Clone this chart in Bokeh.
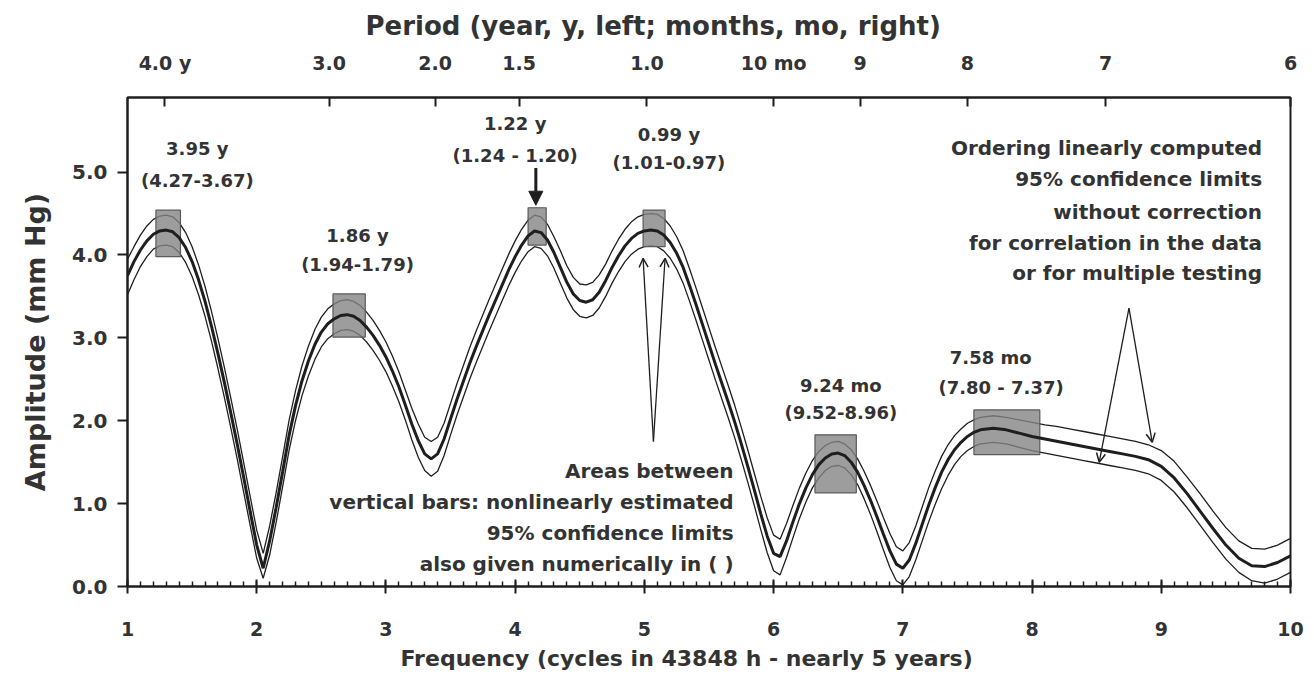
from bokeh.plotting import figure
from bokeh.models import (Range1d, LinearAxis, FixedTicker, SingleIntervalTicker,
                          Label, Arrow, NormalHead, OpenHead, Title)
from bokeh.embed import file_html
from bokeh.resources import INLINE

# ---------------- data ----------------
freq = [
    1.00, 1.05, 1.10, 1.15, 1.20, 1.25, 1.30, 1.35, 1.40, 1.45,
    1.50, 1.55, 1.60, 1.65, 1.70, 1.75, 1.80, 1.85, 1.90, 1.95,
    2.00, 2.05, 2.10, 2.15, 2.20, 2.25, 2.30, 2.35, 2.40, 2.45,
    2.50, 2.55, 2.60, 2.65, 2.70, 2.75, 2.80, 2.85, 2.90, 2.95,
    3.00, 3.05, 3.10, 3.15, 3.20, 3.25, 3.30, 3.35, 3.40, 3.45,
    3.50, 3.55, 3.60, 3.65, 3.70, 3.75, 3.80, 3.85, 3.90, 3.95,
    4.00, 4.05, 4.10, 4.15, 4.20, 4.25, 4.30, 4.35, 4.40, 4.45,
    4.50, 4.55, 4.60, 4.65, 4.70, 4.75, 4.80, 4.85, 4.90, 4.95,
    5.00, 5.05, 5.10, 5.15, 5.20, 5.25, 5.30, 5.35, 5.40, 5.45,
    5.50, 5.55, 5.60, 5.65, 5.70, 5.75, 5.80, 5.85, 5.90, 5.95,
    6.00, 6.05, 6.10, 6.15, 6.20, 6.25, 6.30, 6.35, 6.40, 6.45,
    6.50, 6.55, 6.60, 6.65, 6.70, 6.75, 6.80, 6.85, 6.90, 6.95,
    7.00, 7.05, 7.10, 7.15, 7.20, 7.25, 7.30, 7.35, 7.40, 7.45,
    7.50, 7.55, 7.60,
    7.70, 7.80, 7.90, 8.00, 8.10, 8.20, 8.30, 8.40, 8.50, 8.60,
    8.70, 8.80, 8.90, 9.00, 9.10, 9.20, 9.30, 9.40, 9.50, 9.60,
    9.70, 9.80, 9.90, 10.00,
]

amp_mid = [
    3.75, 3.92, 4.06, 4.17, 4.25, 4.29, 4.30, 4.28, 4.21, 4.09,
    3.92, 3.70, 3.44, 3.14, 2.81, 2.46, 2.09, 1.71, 1.31, 0.90,
    0.50, 0.22, 0.55, 0.95, 1.38, 1.82, 2.18, 2.48, 2.72, 2.92,
    3.07, 3.17, 3.23, 3.27, 3.28, 3.26, 3.21, 3.13, 3.03, 2.91,
    2.77, 2.60, 2.41, 2.19, 1.96, 1.76, 1.60, 1.54, 1.60, 1.78,
    2.02, 2.26, 2.48, 2.70, 2.90, 3.09, 3.28, 3.46, 3.64, 3.82,
    3.98, 4.12, 4.23, 4.29, 4.27, 4.18, 4.03, 3.85, 3.67, 3.53,
    3.45, 3.43, 3.46, 3.55, 3.69, 3.85, 3.99, 4.11, 4.20, 4.26,
    4.29, 4.30, 4.29, 4.24, 4.15, 4.02, 3.85, 3.63, 3.40, 3.16,
    2.92, 2.68, 2.45, 2.22, 1.98, 1.72, 1.45, 1.17, 0.88, 0.61,
    0.40, 0.36, 0.55, 0.78, 1.00, 1.19, 1.35, 1.47, 1.55, 1.60,
    1.61, 1.58, 1.50, 1.38, 1.22, 1.04, 0.84, 0.63, 0.43, 0.27,
    0.22, 0.32, 0.52, 0.75, 0.98, 1.19, 1.38, 1.53, 1.65, 1.74,
    1.81, 1.86, 1.89,
    1.91, 1.89, 1.85, 1.81, 1.78, 1.75, 1.72, 1.69, 1.66, 1.63,
    1.60, 1.57, 1.53, 1.45, 1.31, 1.12, 0.91, 0.70, 0.50, 0.34,
    0.25, 0.24, 0.29, 0.37,
]

amp_upper = [
    3.95, 4.10, 4.24, 4.35, 4.43, 4.47, 4.48, 4.46, 4.39, 4.27,
    4.10, 3.88, 3.62, 3.32, 2.99, 2.64, 2.27, 1.89, 1.49, 1.08,
    0.68, 0.40, 0.73, 1.13, 1.56, 2.00, 2.36, 2.66, 2.90, 3.10,
    3.25, 3.35, 3.41, 3.45, 3.46, 3.44, 3.39, 3.31, 3.21, 3.09,
    2.95, 2.78, 2.59, 2.37, 2.15, 1.96, 1.80, 1.75, 1.80, 1.97,
    2.21, 2.45, 2.67, 2.89, 3.09, 3.28, 3.47, 3.65, 3.83, 4.01,
    4.17, 4.31, 4.42, 4.48, 4.46, 4.37, 4.22, 4.05, 3.87, 3.73,
    3.65, 3.64, 3.67, 3.76, 3.89, 4.05, 4.19, 4.31, 4.40, 4.46,
    4.49, 4.50, 4.49, 4.44, 4.35, 4.22, 4.05, 3.83, 3.60, 3.36,
    3.12, 2.88, 2.65, 2.42, 2.18, 1.92, 1.65, 1.37, 1.09, 0.83,
    0.62, 0.57, 0.76, 0.98, 1.19, 1.37, 1.52, 1.63, 1.70, 1.74,
    1.75, 1.72, 1.65, 1.54, 1.39, 1.22, 1.03, 0.83, 0.64, 0.48,
    0.43, 0.53, 0.73, 0.96, 1.19, 1.39, 1.57, 1.71, 1.82, 1.90,
    1.97, 2.01, 2.04,
    2.06, 2.04, 2.01, 1.98, 1.95, 1.93, 1.90, 1.87, 1.84, 1.81,
    1.78, 1.75, 1.71, 1.64, 1.51, 1.32, 1.12, 0.91, 0.71, 0.55,
    0.46, 0.45, 0.50, 0.58,
]

amp_lower = [
    3.52, 3.70, 3.86, 3.98, 4.07, 4.11, 4.12, 4.10, 4.03, 3.91,
    3.74, 3.52, 3.26, 2.96, 2.63, 2.28, 1.91, 1.53, 1.13, 0.73,
    0.34, 0.10, 0.38, 0.77, 1.20, 1.64, 2.00, 2.30, 2.54, 2.74,
    2.89, 2.99, 3.05, 3.09, 3.10, 3.08, 3.03, 2.95, 2.85, 2.73,
    2.59, 2.42, 2.23, 2.01, 1.77, 1.56, 1.40, 1.33, 1.39, 1.58,
    1.83, 2.07, 2.29, 2.51, 2.71, 2.90, 3.09, 3.27, 3.45, 3.63,
    3.79, 3.93, 4.04, 4.10, 4.08, 3.99, 3.84, 3.66, 3.48, 3.34,
    3.26, 3.24, 3.27, 3.36, 3.50, 3.66, 3.80, 3.92, 4.01, 4.07,
    4.10, 4.11, 4.10, 4.05, 3.96, 3.83, 3.66, 3.44, 3.21, 2.97,
    2.73, 2.49, 2.26, 2.03, 1.79, 1.53, 1.26, 0.98, 0.69, 0.41,
    0.19, 0.14, 0.35, 0.59, 0.82, 1.02, 1.19, 1.31, 1.40, 1.45,
    1.46, 1.43, 1.35, 1.23, 1.06, 0.87, 0.66, 0.44, 0.23, 0.07,
    0.02, 0.12, 0.32, 0.55, 0.78, 0.99, 1.18, 1.34, 1.47, 1.57,
    1.64, 1.69, 1.72,
    1.74, 1.72, 1.68, 1.64, 1.61, 1.58, 1.55, 1.52, 1.49, 1.46,
    1.43, 1.40, 1.36, 1.28, 1.14, 0.95, 0.74, 0.53, 0.33, 0.17,
    0.07, 0.04, 0.09, 0.17,
]

# nonlinear confidence regions (grey boxes): frequency and amplitude limits
box_f_lo = [1.22, 2.59, 4.10, 4.99, 6.32, 7.55]
box_f_hi = [1.41, 2.84, 4.24, 5.16, 6.64, 8.06]
box_a_lo = [3.98, 3.01, 4.12, 4.10, 1.13, 1.59]
box_a_hi = [4.54, 3.53, 4.57, 4.54, 1.83, 2.13]

peak_period = ["3.95 y", "1.86 y", "1.22 y", "0.99 y", "9.24 mo", "7.58 mo"]
peak_ci = ["(4.27-3.67)", "(1.94-1.79)", "(1.24 - 1.20)", "(1.01-0.97)",
           "(9.52-8.96)", "(7.80 - 7.37)"]

y_tick_values = [0, 1, 2, 3, 4, 5]
y_tick_labels = ["0.0", "1.0", "2.0", "3.0", "4.0", "5.0"]
top_tick_pos = [1.29, 2.56, 3.38, 4.03, 5.02, 6.0, 6.67, 7.5, 8.57, 10.0]
top_tick_labels = ["4.0 y", "3.0", "2.0", "1.5", "1.0", "10 mo", "9", "8", "7", "6"]

note_right = ["Ordering linearly computed", "95% confidence limits",
              "without correction", "for correlation in the data",
              "or for multiple testing"]
note_mid = ["Areas between", "vertical bars: nonlinearly estimated",
            "95% confidence limits", "also given numerically in ( )"]

# ---------------- styling ----------------
FONT = "DejaVu Sans"
TXT = "#333333"
INK = "#1e1e1e"

p = figure(width=1308, height=675, output_backend="svg", toolbar_location=None,
           x_range=Range1d(1, 10), y_range=Range1d(0, 5.9),
           min_border_left=127, min_border_right=18,
           min_border_top=97, min_border_bottom=88,
           background_fill_color="white", border_fill_color="white")
p.xgrid.visible = False
p.ygrid.visible = False
p.outline_line_color = INK
p.outline_line_width = 2

# bottom axis
xa = p.xaxis[0]
xa.ticker = SingleIntervalTicker(interval=1, num_minor_ticks=10)
xa.major_tick_in = 7
xa.major_tick_out = 7
xa.minor_tick_in = 5
xa.minor_tick_out = 0
xa.major_tick_line_width = 2
xa.minor_tick_line_width = 1.5
xa.axis_line_width = 2
xa.major_label_standoff = 28
xa.major_label_text_font = FONT
xa.major_label_text_font_style = "bold"
xa.major_label_text_font_size = "19px"
xa.major_label_text_color = TXT
for k in ("axis_line_color", "major_tick_line_color", "minor_tick_line_color"):
    setattr(xa, k, INK)

# left axis
ya = p.yaxis[0]
ya.ticker = FixedTicker(ticks=y_tick_values)
ya.major_label_overrides = dict(zip(y_tick_values, y_tick_labels))
ya.major_tick_in = 0
ya.major_tick_out = 10
ya.major_tick_line_width = 2
ya.axis_line_width = 2
ya.minor_tick_line_color = None
ya.major_label_standoff = 10
ya.major_label_text_font = FONT
ya.major_label_text_font_style = "bold"
ya.major_label_text_font_size = "20px"
ya.major_label_text_color = TXT
ya.axis_line_color = INK
ya.major_tick_line_color = INK
ya.axis_label = "Amplitude (mm Hg)"
ya.axis_label_text_font = FONT
ya.axis_label_text_font_style = "bold"
ya.axis_label_text_font_size = "27px"
ya.axis_label_text_color = TXT
ya.axis_label_standoff = 18

# top axis (period)
ta = LinearAxis(ticker=FixedTicker(ticks=top_tick_pos),
                major_label_overrides=dict(zip(top_tick_pos, top_tick_labels)))
ta.major_tick_in = 9
ta.major_tick_out = 0
ta.major_tick_line_width = 2
ta.minor_tick_line_color = None
ta.axis_line_width = 2
ta.axis_line_color = INK
ta.major_tick_line_color = INK
ta.major_label_standoff = 24
ta.major_label_text_font = FONT
ta.major_label_text_font_style = "bold"
ta.major_label_text_font_size = "19px"
ta.major_label_text_color = TXT
p.add_layout(ta, "above")

# axis titles as titles so they sit outside the frame
p.add_layout(Title(text="Period (year, y, left; months, mo, right)", align="left",
                   offset=238, standoff=15, text_font=FONT, text_font_style="bold",
                   text_font_size="26px", text_color=TXT), "above")
p.add_layout(Title(text="Frequency (cycles in 43848 h - nearly 5 years)", align="left",
                   offset=273, standoff=10, text_font=FONT, text_font_style="bold",
                   text_font_size="22px", text_color=TXT), "below")

# confidence lines
p.line(freq, amp_upper, line_color=INK, line_width=1.3)
p.line(freq, amp_lower, line_color=INK, line_width=1.3)

# grey boxes
p.quad(left=box_f_lo, right=box_f_hi, bottom=box_a_lo, top=box_a_hi,
       fill_color="#858585", fill_alpha=0.8, line_color="#5a5a5a", line_width=1.2)

# main amplitude spectrum
p.line(freq, amp_mid, line_color=INK, line_width=3)


def lab(x, y, text, size="18px", align="center"):
    p.add_layout(Label(x=x, y=y, text=text, text_font=FONT, text_font_style="bold",
                       text_font_size=size, text_color=TXT, text_align=align,
                       text_baseline="middle"))


# peak annotations
peak_x1 = [1.54, 2.78, 4.00, 5.19, 6.52, 7.68]
peak_x2 = [1.54, 2.78, 4.00, 5.19, 6.52, 7.76]
peak_y1 = [5.29, 4.24, 5.59, 5.45, 2.43, 2.76]
peak_y2 = [4.90, 3.88, 5.20, 5.11, 2.10, 2.40]
for x1, x2, y1, y2, t1, t2 in zip(peak_x1, peak_x2, peak_y1, peak_y2, peak_period, peak_ci):
    lab(x1, y1, t1)
    lab(x2, y2, t2)

# explanatory notes
for t, y in zip(note_right, [5.29, 4.92, 4.52, 4.14, 3.78]):
    lab(9.78, y, t, size="20px", align="right")
for t, y in zip(note_mid, [1.39, 1.02, 0.65, 0.27]):
    lab(5.69, y, t, size="20px", align="right")

# arrows
p.add_layout(Arrow(end=NormalHead(size=14, fill_color=INK, line_color=INK),
                   x_start=4.16, y_start=5.05, x_end=4.16, y_end=4.60,
                   line_color=INK, line_width=3))
for xe in (4.99, 5.16):
    p.add_layout(Arrow(end=OpenHead(size=9, line_color=INK, line_width=1.5),
                       x_start=5.07, y_start=1.75, x_end=xe, y_end=3.96,
                       line_color=INK, line_width=1.3))
for xe, ye in ((8.52, 1.50), (8.93, 1.74)):
    p.add_layout(Arrow(end=OpenHead(size=9, line_color=INK, line_width=1.5),
                       x_start=8.75, y_start=3.36, x_end=xe, y_end=ye,
                       line_color=INK, line_width=1.3))

open("out.html", "w").write(file_html(p, INLINE))
